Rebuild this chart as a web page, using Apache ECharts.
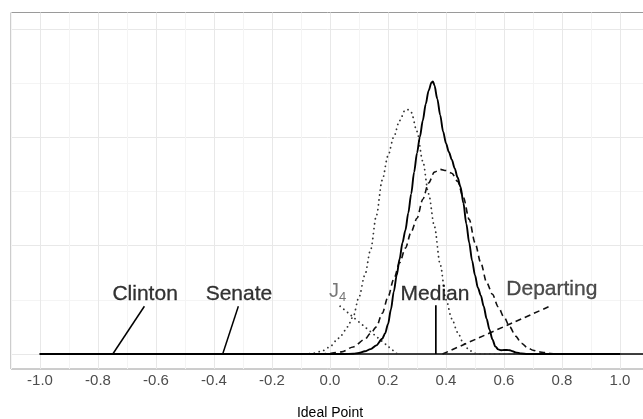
<!DOCTYPE html>
<html>
<head>
<meta charset="utf-8">
<script src="https://cdn.jsdelivr.net/npm/echarts@6/dist/echarts.min.js"></script>
<style>
  html, body { margin: 0; padding: 0; background: #fff; }
  #chart { width: 643px; height: 419px; }
</style>
</head>
<body>
<div id="chart"></div>
<script>
// 密度曲线 (ideal point, density)
var solidX = [-1.0, 0.05, 0.08, 0.10, 0.12, 0.14, 0.16, 0.18, 0.19, 0.20, 0.21, 0.22, 0.23, 0.24, 0.25, 0.26, 0.27, 0.28, 0.29, 0.30, 0.31, 0.32, 0.33, 0.34, 0.35, 0.355, 0.36, 0.37, 0.38, 0.39, 0.40, 0.41, 0.42, 0.43, 0.44, 0.45, 0.46, 0.47, 0.48, 0.49, 0.50, 0.51, 0.52, 0.53, 0.54, 0.55, 0.56, 0.57, 0.58, 0.59, 0.60, 0.61, 0.62, 0.63, 0.64, 0.66, 0.68, 1.0]
var solidY = [0, 0, 0.005, 0.02, 0.05, 0.09, 0.16, 0.28, 0.38, 0.55, 0.82, 1.15, 1.45, 1.75, 2.05, 2.28, 2.6, 2.95, 3.35, 3.7, 4.0, 4.3, 4.6, 4.85, 5.0, 5.02, 4.95, 4.7, 4.4, 4.1, 3.88, 3.72, 3.58, 3.42, 3.25, 3.08, 2.78, 2.4, 2.05, 1.72, 1.45, 1.22, 1.08, 0.88, 0.65, 0.45, 0.27, 0.14, 0.085, 0.07, 0.075, 0.075, 0.07, 0.05, 0.03, 0.01, 0, 0]

var j4X = [-1.0, -0.10, -0.06, -0.03, 0.00, 0.02, 0.04, 0.06, 0.08, 0.10, 0.12, 0.14, 0.16, 0.18, 0.20, 0.22, 0.24, 0.26, 0.27, 0.28, 0.30, 0.32, 0.34, 0.36, 0.38, 0.40, 0.42, 0.44, 0.46, 0.48, 0.50, 0.52, 1.0]
var j4Y = [0, 0, 0.01, 0.05, 0.13, 0.24, 0.35, 0.5, 0.69, 1.05, 1.45, 1.92, 2.55, 3.2, 3.65, 4.0, 4.3, 4.5, 4.5, 4.45, 4.1, 3.55, 2.95, 2.35, 1.65, 1.0, 0.65, 0.4, 0.2, 0.07, 0.01, 0, 0]

var depX = [-1.0, -0.04, 0.00, 0.04, 0.08, 0.12, 0.14, 0.16, 0.18, 0.20, 0.22, 0.24, 0.26, 0.28, 0.30, 0.32, 0.34, 0.36, 0.38, 0.40, 0.42, 0.44, 0.46, 0.48, 0.50, 0.52, 0.54, 0.56, 0.58, 0.60, 0.62, 0.64, 0.66, 0.68, 0.70, 0.72, 0.74, 0.76, 0.78, 1.0]
var depY = [0, 0, 0.01, 0.04, 0.13, 0.27, 0.38, 0.5, 0.75, 1.05, 1.38, 1.68, 1.95, 2.25, 2.5, 2.85, 3.15, 3.35, 3.4, 3.38, 3.33, 3.18, 2.88, 2.48, 2.05, 1.68, 1.32, 1.1, 0.87, 0.68, 0.5, 0.33, 0.2, 0.12, 0.07, 0.04, 0.025, 0.01, 0, 0]

// 标注线段 [x0, y0, x1, y1]
var clintonSeg = [-0.749, 0, -0.64, 0.88]
var senateSeg = [-0.37, 0, -0.316, 0.88]
var j4Seg = [0.035, 0.88, 0.232, 0]
var medianSeg = [0.365, 0, 0.365, 0.9]
var departSeg = [0.388, 0, 0.758, 0.88]
var zeroLine = [-1.0, 1.1]

// 标签
var labelNames = ['Clinton', 'Senate', 'J4', 'Median', 'Departing']
var labelX = [-0.6375, -0.314, 0.026, 0.362, 0.765]
var labelY = [1.11, 1.11, 1.16, 1.11, 1.2]

var xTicks = [-1.1, 1.1]

function zip(xs, ys) {
  return xs.map(function (x, i) { return [x, ys[i]] })
}
function seg(s) {
  return [[s[0], s[1]], [s[2], s[3]]]
}

var chart = echarts.init(document.getElementById('chart'), null, { renderer: 'canvas' })

var font = 'Liberation Sans'
var dotted = { width: 1.8, type: [0.1, 4.8], cap: 'round', color: '#333' }
var dashed = { width: 1.6, type: [6, 4], color: '#111' }

function lineSeries(data, style, z) {
  return {
    type: 'line',
    data: data,
    showSymbol: false,
    symbol: 'none',
    smooth: 0.3,
    smoothMonotone: 'x',
    lineStyle: style,
    z: z || 3,
    silent: true,
    animation: false
  }
}

var labelData = labelNames.map(function (n, i) {
  var item = { value: [labelX[i], labelY[i]], name: n }
  if (n === 'J4') {
    item.label = { formatter: '{a|J}{b|4}', color: '#555', textBorderWidth: 0 }
  }
  if (n === 'Departing') {
    item.label = { color: '#222', textBorderColor: '#222' }
  }
  return item
})

var option = {
  animation: false,
  grid: [
    { left: 11, right: -6, top: 12.5, bottom: 50, show: true, borderColor: '#9a9a9a', borderWidth: 1, backgroundColor: 'transparent', outerBoundsMode: 'none', containLabel: false },
    { left: 11, right: -6, top: 29, bottom: 65, show: false, outerBoundsMode: 'none', containLabel: false }
  ],
  xAxis: [
    {
      type: 'value', gridIndex: 0,
      min: xTicks[0], max: xTicks[1], interval: 0.1,
      axisLine: { show: false },
      axisTick: { show: false },
      axisLabel: {
        margin: 4,
        fontFamily: font, fontSize: 15, color: '#4d4d4d',
        showMinLabel: true, showMaxLabel: true,
        formatter: function (v) {
          var t = Math.round(v * 10)
          if (t % 2 !== 0 || Math.abs(t) > 10) return ''
          return (t / 10).toFixed(1)
        }
      },
      splitLine: { show: true, lineStyle: { color: ['#f4f4f4', '#e8e8e8'], width: 1 } },
      name: 'Ideal Point', nameLocation: 'middle', nameGap: 37,
      nameTextStyle: { fontFamily: font, fontSize: 14, color: '#000' }
    },
    {
      type: 'value', gridIndex: 1,
      min: xTicks[0], max: xTicks[1],
      show: false
    }
  ],
  yAxis: [
    {
      type: 'value', gridIndex: 0,
      min: -0.276, max: 6.29,
      axisLine: { show: false }, axisTick: { show: false },
      axisLabel: { show: false }, splitLine: { show: false }
    },
    {
      type: 'value', gridIndex: 1,
      min: 0, max: 6, interval: 1,
      axisLine: { show: false }, axisTick: { show: false },
      axisLabel: { show: false },
      splitLine: { show: true, lineStyle: { color: ['#e8e8e8', '#f4f4f4'], width: 1 } }
    }
  ],
  series: [
    lineSeries(zip(zeroLine, [0, 0]), { width: 1.3, color: '#000' }, 2),
    lineSeries(zip(j4X, j4Y), dotted),
    lineSeries(zip(depX, depY), dashed),
    lineSeries(zip(solidX, solidY), { width: 1.9, color: '#000' }, 4),
    lineSeries(seg(clintonSeg), { width: 1.5, color: '#000' }),
    lineSeries(seg(senateSeg), { width: 1.5, color: '#000' }),
    lineSeries(seg(j4Seg), dotted),
    lineSeries(seg(medianSeg), { width: 1.7, color: '#000' }),
    lineSeries(seg(departSeg), dashed),
    {
      type: 'scatter',
      data: labelData,
      symbolSize: 0,
      silent: true,
      z: 5,
      label: {
        show: true,
        position: [0, 0],
        align: 'center',
        verticalAlign: 'middle',
        fontFamily: font,
        fontSize: 21,
        color: '#000',
        textBorderColor: '#000',
        textBorderWidth: 0.3,
        formatter: '{b}',
        rich: {
          a: { fontFamily: font, fontSize: 20, lineHeight: 26, verticalAlign: 'middle', color: '#555' },
          b: { fontFamily: font, fontSize: 13, lineHeight: 13, verticalAlign: 'bottom', color: '#555' }
        }
      }
    }
  ]
}
chart.setOption(option)
</script>
</body>
</html>
